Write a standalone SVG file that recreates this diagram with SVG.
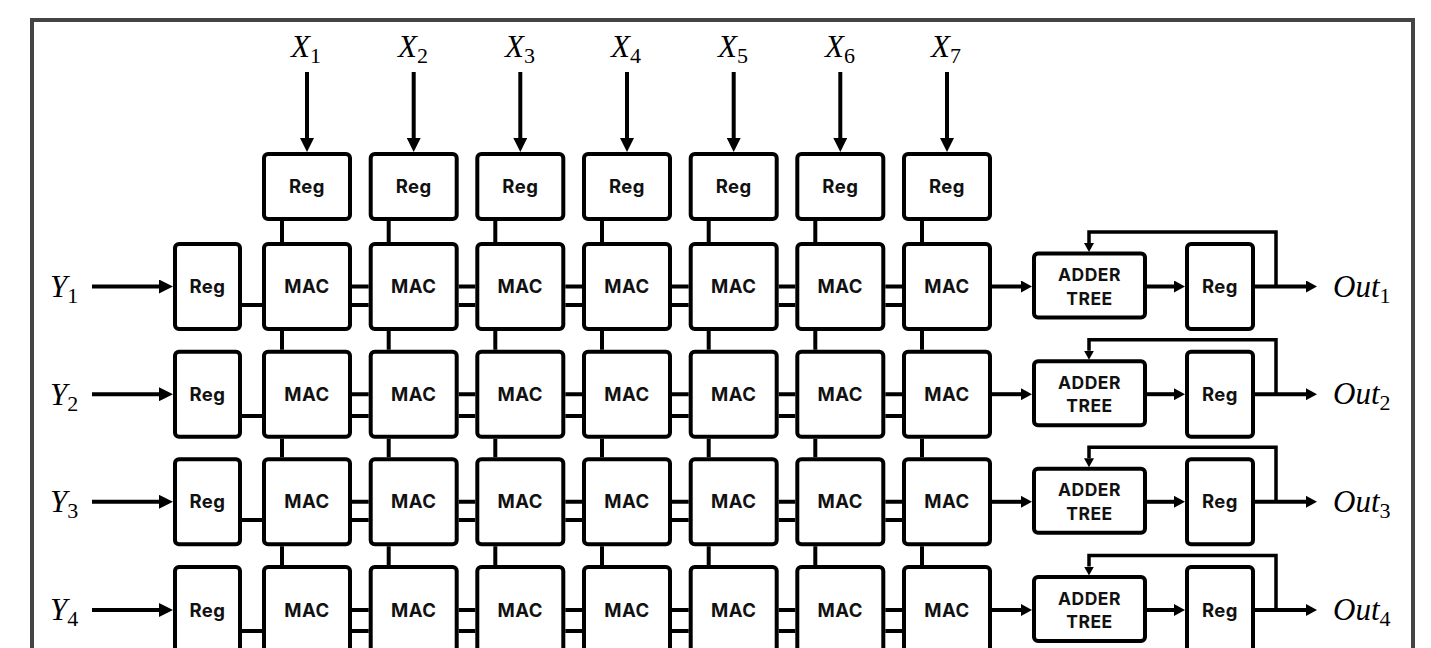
<svg xmlns="http://www.w3.org/2000/svg" width="1431" height="648" viewBox="0 0 1431 648">
<style>
.box{fill:#fff;stroke:#000;stroke-width:4}
.t{font-family:Inter,"Liberation Sans",sans-serif;font-weight:700;font-size:18.5px;fill:#111;text-anchor:middle;letter-spacing:0.5px}
.ts{font-size:17.5px}
.ln{stroke:#000;stroke-width:4;fill:none}
.fb{stroke:#000;stroke-width:3.5;fill:none}
.lbl{font-family:"Liberation Serif",serif;font-style:italic;font-size:31px;fill:#000}
.sub{font-style:normal;font-size:22px}
</style>
<defs>
<marker id="ah" viewBox="0 0 14 14" refX="0" refY="7" markerWidth="14" markerHeight="14" markerUnits="userSpaceOnUse" orient="auto"><path d="M0,0 L14,7 L0,14 z" fill="#000"/></marker>
<marker id="ahs" viewBox="0 0 11 12" refX="0" refY="6" markerWidth="11" markerHeight="12" markerUnits="userSpaceOnUse" orient="auto"><path d="M0,0 L11,6 L0,12 z" fill="#000"/></marker>
<marker id="ahf" viewBox="0 0 9 10" refX="0" refY="5" markerWidth="9" markerHeight="10" markerUnits="userSpaceOnUse" orient="auto"><path d="M0,0 L9,5 L0,10 z" fill="#000"/></marker>
</defs>
<rect x="0" y="0" width="1431" height="648" fill="#fff"/>
<rect id="frame" x="32" y="20" width="1381" height="700" fill="none" stroke="#444" stroke-width="4"/>

<g id="connectors">
<!-- X inputs -->
<line class="ln" x1="307" y1="72" x2="307" y2="138" marker-end="url(#ah)"/>
<line class="ln" x1="413.7" y1="72" x2="413.7" y2="138" marker-end="url(#ah)"/>
<line class="ln" x1="520.3" y1="72" x2="520.3" y2="138" marker-end="url(#ah)"/>
<line class="ln" x1="627" y1="72" x2="627" y2="138" marker-end="url(#ah)"/>
<line class="ln" x1="733.7" y1="72" x2="733.7" y2="138" marker-end="url(#ah)"/>
<line class="ln" x1="840.3" y1="72" x2="840.3" y2="138" marker-end="url(#ah)"/>
<line class="ln" x1="947" y1="72" x2="947" y2="138" marker-end="url(#ah)"/>
<!-- Y inputs -->
<line class="ln" x1="92" y1="286.5" x2="159" y2="286.5" marker-end="url(#ah)"/>
<line class="ln" x1="92" y1="394.2" x2="159" y2="394.2" marker-end="url(#ah)"/>
<line class="ln" x1="92" y1="501.8" x2="159" y2="501.8" marker-end="url(#ah)"/>
<line class="ln" x1="92" y1="610" x2="159" y2="610" marker-end="url(#ah)"/>
<!-- vertical links -->
<path class="ln" d="M282,221V242 M282,331V349.7 M282,438.7V457.3 M282,546.3V565
M388.7,221V242 M388.7,331V349.7 M388.7,438.7V457.3 M388.7,546.3V565
M495.3,221V242 M495.3,331V349.7 M495.3,438.7V457.3 M495.3,546.3V565
M602,221V242 M602,331V349.7 M602,438.7V457.3 M602,546.3V565
M708.7,221V242 M708.7,331V349.7 M708.7,438.7V457.3 M708.7,546.3V565
M815.3,221V242 M815.3,331V349.7 M815.3,438.7V457.3 M815.3,546.3V565
M922,221V242 M922,331V349.7 M922,438.7V457.3 M922,546.3V565"/>
<!-- Reg to MAC -->
<path class="ln" d="M242,305H262 M242,416H262 M242,520H262 M242,631H262"/>
<!-- MAC to MAC double links -->
<path class="ln" d="M352,286.5H368.7 M352,305H368.7 M458.7,286.5H475.3 M458.7,305H475.3 M565.3,286.5H582 M565.3,305H582 M672,286.5H688.7 M672,305H688.7 M778.7,286.5H795.3 M778.7,305H795.3 M885.3,286.5H902 M885.3,305H902"/>
<path class="ln" d="M352,394.2H368.7 M352,416H368.7 M458.7,394.2H475.3 M458.7,416H475.3 M565.3,394.2H582 M565.3,416H582 M672,394.2H688.7 M672,416H688.7 M778.7,394.2H795.3 M778.7,416H795.3 M885.3,394.2H902 M885.3,416H902"/>
<path class="ln" d="M352,501.8H368.7 M352,520H368.7 M458.7,501.8H475.3 M458.7,520H475.3 M565.3,501.8H582 M565.3,520H582 M672,501.8H688.7 M672,520H688.7 M778.7,501.8H795.3 M778.7,520H795.3 M885.3,501.8H902 M885.3,520H902"/>
<path class="ln" d="M352,610H368.7 M352,631H368.7 M458.7,610H475.3 M458.7,631H475.3 M565.3,610H582 M565.3,631H582 M672,610H688.7 M672,631H688.7 M778.7,610H795.3 M778.7,631H795.3 M885.3,610H902 M885.3,631H902"/>
<!-- right side -->
<line class="ln" x1="992" y1="286.5" x2="1021" y2="286.5" marker-end="url(#ahs)"/>
<line class="ln" x1="1147" y1="286.5" x2="1174" y2="286.5" marker-end="url(#ahs)"/>
<line class="ln" x1="1255" y1="286.5" x2="1306" y2="286.5" marker-end="url(#ahs)"/>
<polyline class="fb" points="1276,286.5 1276,232 1089,232 1089,243" marker-end="url(#ahf)"/>
<line class="ln" x1="992" y1="394.2" x2="1021" y2="394.2" marker-end="url(#ahs)"/>
<line class="ln" x1="1147" y1="394.2" x2="1174" y2="394.2" marker-end="url(#ahs)"/>
<line class="ln" x1="1255" y1="394.2" x2="1306" y2="394.2" marker-end="url(#ahs)"/>
<polyline class="fb" points="1276,394.2 1276,339.7 1089,339.7 1089,350.7" marker-end="url(#ahf)"/>
<line class="ln" x1="992" y1="501.8" x2="1021" y2="501.8" marker-end="url(#ahs)"/>
<line class="ln" x1="1147" y1="501.8" x2="1174" y2="501.8" marker-end="url(#ahs)"/>
<line class="ln" x1="1255" y1="501.8" x2="1306" y2="501.8" marker-end="url(#ahs)"/>
<polyline class="fb" points="1276,501.8 1276,447.3 1089,447.3 1089,458.3" marker-end="url(#ahf)"/>
<line class="ln" x1="992" y1="610" x2="1021" y2="610" marker-end="url(#ahs)"/>
<line class="ln" x1="1147" y1="610" x2="1174" y2="610" marker-end="url(#ahs)"/>
<line class="ln" x1="1255" y1="610" x2="1306" y2="610" marker-end="url(#ahs)"/>
<polyline class="fb" points="1276,610 1276,555.5 1089,555.5 1089,566.5" marker-end="url(#ahf)"/>
</g>

<g id="labels">
<text class="lbl" x="291" y="57">X<tspan class="sub" dy="6">1</tspan></text>
<text class="lbl" x="398" y="57">X<tspan class="sub" dy="6">2</tspan></text>
<text class="lbl" x="505" y="57">X<tspan class="sub" dy="6">3</tspan></text>
<text class="lbl" x="611" y="57">X<tspan class="sub" dy="6">4</tspan></text>
<text class="lbl" x="718" y="57">X<tspan class="sub" dy="6">5</tspan></text>
<text class="lbl" x="825" y="57">X<tspan class="sub" dy="6">6</tspan></text>
<text class="lbl" x="931" y="57">X<tspan class="sub" dy="6">7</tspan></text>
<text class="lbl" x="50" y="297">Y<tspan class="sub" dy="6">1</tspan></text>
<text class="lbl" x="50" y="404.7">Y<tspan class="sub" dy="6">2</tspan></text>
<text class="lbl" x="50" y="512.3">Y<tspan class="sub" dy="6">3</tspan></text>
<text class="lbl" x="50" y="620">Y<tspan class="sub" dy="6">4</tspan></text>
<text class="lbl" x="1333" y="296.5">Out<tspan class="sub" dy="6">1</tspan></text>
<text class="lbl" x="1333" y="404.2">Out<tspan class="sub" dy="6">2</tspan></text>
<text class="lbl" x="1333" y="511.8">Out<tspan class="sub" dy="6">3</tspan></text>
<text class="lbl" x="1333" y="620">Out<tspan class="sub" dy="6">4</tspan></text>
</g>

<!-- top registers -->
<g id="regx1"><rect class="box" x="264" y="154" width="86" height="65" rx="4"/><text class="t" x="307" y="193">Reg</text></g>
<g id="regx2"><rect class="box" x="370.7" y="154" width="86" height="65" rx="4"/><text class="t" x="413.7" y="193">Reg</text></g>
<g id="regx3"><rect class="box" x="477.3" y="154" width="86" height="65" rx="4"/><text class="t" x="520.3" y="193">Reg</text></g>
<g id="regx4"><rect class="box" x="584" y="154" width="86" height="65" rx="4"/><text class="t" x="627" y="193">Reg</text></g>
<g id="regx5"><rect class="box" x="690.7" y="154" width="86" height="65" rx="4"/><text class="t" x="733.7" y="193">Reg</text></g>
<g id="regx6"><rect class="box" x="797.3" y="154" width="86" height="65" rx="4"/><text class="t" x="840.3" y="193">Reg</text></g>
<g id="regx7"><rect class="box" x="904" y="154" width="86" height="65" rx="4"/><text class="t" x="947" y="193">Reg</text></g>

<!-- left registers -->
<g id="regy1"><rect class="box" x="175" y="244" width="65" height="85" rx="4"/><text class="t" x="207.5" y="293">Reg</text></g>
<g id="regy2"><rect class="box" x="175" y="351.7" width="65" height="85" rx="4"/><text class="t" x="207.5" y="400.7">Reg</text></g>
<g id="regy3"><rect class="box" x="175" y="459.3" width="65" height="85" rx="4"/><text class="t" x="207.5" y="508.3">Reg</text></g>
<g id="regy4"><rect class="box" x="175" y="567" width="65" height="85" rx="4"/><text class="t" x="207.5" y="616.5">Reg</text></g>

<!-- MAC row 1 -->
<g id="mac11"><rect class="box" x="264" y="244" width="86" height="85" rx="4"/><text class="t" x="307" y="293">MAC</text></g>
<g id="mac12"><rect class="box" x="370.7" y="244" width="86" height="85" rx="4"/><text class="t" x="413.7" y="293">MAC</text></g>
<g id="mac13"><rect class="box" x="477.3" y="244" width="86" height="85" rx="4"/><text class="t" x="520.3" y="293">MAC</text></g>
<g id="mac14"><rect class="box" x="584" y="244" width="86" height="85" rx="4"/><text class="t" x="627" y="293">MAC</text></g>
<g id="mac15"><rect class="box" x="690.7" y="244" width="86" height="85" rx="4"/><text class="t" x="733.7" y="293">MAC</text></g>
<g id="mac16"><rect class="box" x="797.3" y="244" width="86" height="85" rx="4"/><text class="t" x="840.3" y="293">MAC</text></g>
<g id="mac17"><rect class="box" x="904" y="244" width="86" height="85" rx="4"/><text class="t" x="947" y="293">MAC</text></g>
<!-- MAC row 2 -->
<g id="mac21"><rect class="box" x="264" y="351.7" width="86" height="85" rx="4"/><text class="t" x="307" y="400.7">MAC</text></g>
<g id="mac22"><rect class="box" x="370.7" y="351.7" width="86" height="85" rx="4"/><text class="t" x="413.7" y="400.7">MAC</text></g>
<g id="mac23"><rect class="box" x="477.3" y="351.7" width="86" height="85" rx="4"/><text class="t" x="520.3" y="400.7">MAC</text></g>
<g id="mac24"><rect class="box" x="584" y="351.7" width="86" height="85" rx="4"/><text class="t" x="627" y="400.7">MAC</text></g>
<g id="mac25"><rect class="box" x="690.7" y="351.7" width="86" height="85" rx="4"/><text class="t" x="733.7" y="400.7">MAC</text></g>
<g id="mac26"><rect class="box" x="797.3" y="351.7" width="86" height="85" rx="4"/><text class="t" x="840.3" y="400.7">MAC</text></g>
<g id="mac27"><rect class="box" x="904" y="351.7" width="86" height="85" rx="4"/><text class="t" x="947" y="400.7">MAC</text></g>
<!-- MAC row 3 -->
<g id="mac31"><rect class="box" x="264" y="459.3" width="86" height="85" rx="4"/><text class="t" x="307" y="508.3">MAC</text></g>
<g id="mac32"><rect class="box" x="370.7" y="459.3" width="86" height="85" rx="4"/><text class="t" x="413.7" y="508.3">MAC</text></g>
<g id="mac33"><rect class="box" x="477.3" y="459.3" width="86" height="85" rx="4"/><text class="t" x="520.3" y="508.3">MAC</text></g>
<g id="mac34"><rect class="box" x="584" y="459.3" width="86" height="85" rx="4"/><text class="t" x="627" y="508.3">MAC</text></g>
<g id="mac35"><rect class="box" x="690.7" y="459.3" width="86" height="85" rx="4"/><text class="t" x="733.7" y="508.3">MAC</text></g>
<g id="mac36"><rect class="box" x="797.3" y="459.3" width="86" height="85" rx="4"/><text class="t" x="840.3" y="508.3">MAC</text></g>
<g id="mac37"><rect class="box" x="904" y="459.3" width="86" height="85" rx="4"/><text class="t" x="947" y="508.3">MAC</text></g>
<!-- MAC row 4 -->
<g id="mac41"><rect class="box" x="264" y="567" width="86" height="85" rx="4"/><text class="t" x="307" y="616.5">MAC</text></g>
<g id="mac42"><rect class="box" x="370.7" y="567" width="86" height="85" rx="4"/><text class="t" x="413.7" y="616.5">MAC</text></g>
<g id="mac43"><rect class="box" x="477.3" y="567" width="86" height="85" rx="4"/><text class="t" x="520.3" y="616.5">MAC</text></g>
<g id="mac44"><rect class="box" x="584" y="567" width="86" height="85" rx="4"/><text class="t" x="627" y="616.5">MAC</text></g>
<g id="mac45"><rect class="box" x="690.7" y="567" width="86" height="85" rx="4"/><text class="t" x="733.7" y="616.5">MAC</text></g>
<g id="mac46"><rect class="box" x="797.3" y="567" width="86" height="85" rx="4"/><text class="t" x="840.3" y="616.5">MAC</text></g>
<g id="mac47"><rect class="box" x="904" y="567" width="86" height="85" rx="4"/><text class="t" x="947" y="616.5">MAC</text></g>

<!-- adder trees -->
<g id="adder1"><rect class="box" x="1034" y="253.5" width="111" height="64" rx="4"/><text class="t ts" x="1089.5" y="281">ADDER</text><text class="t ts" x="1089.5" y="304.5">TREE</text></g>
<g id="adder2"><rect class="box" x="1034" y="361.2" width="111" height="64" rx="4"/><text class="t ts" x="1089.5" y="388.7">ADDER</text><text class="t ts" x="1089.5" y="412.2">TREE</text></g>
<g id="adder3"><rect class="box" x="1034" y="468.8" width="111" height="64" rx="4"/><text class="t ts" x="1089.5" y="496.3">ADDER</text><text class="t ts" x="1089.5" y="519.8">TREE</text></g>
<g id="adder4"><rect class="box" x="1034" y="577" width="111" height="64" rx="4"/><text class="t ts" x="1089.5" y="604.5">ADDER</text><text class="t ts" x="1089.5" y="628">TREE</text></g>

<!-- output registers -->
<g id="rego1"><rect class="box" x="1187" y="244" width="66" height="85" rx="4"/><text class="t" x="1220" y="293">Reg</text></g>
<g id="rego2"><rect class="box" x="1187" y="351.7" width="66" height="85" rx="4"/><text class="t" x="1220" y="400.7">Reg</text></g>
<g id="rego3"><rect class="box" x="1187" y="459.3" width="66" height="85" rx="4"/><text class="t" x="1220" y="508.3">Reg</text></g>
<g id="rego4"><rect class="box" x="1187" y="567" width="66" height="85" rx="4"/><text class="t" x="1220" y="616.5">Reg</text></g>
</svg>
